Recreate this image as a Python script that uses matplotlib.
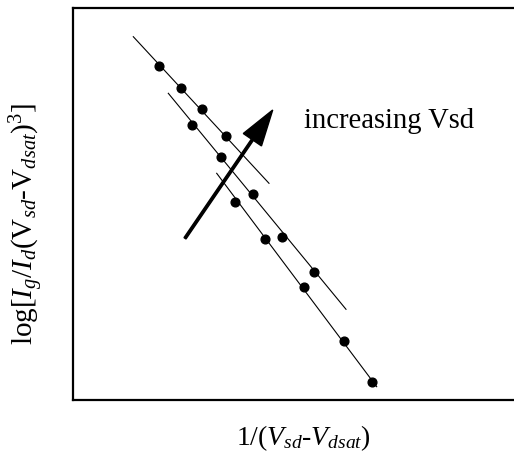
import matplotlib
matplotlib.use("Agg")
import matplotlib.pyplot as plt

plt.rcParams['font.family'] = ['Liberation Serif', 'DejaVu Serif']
plt.rcParams['mathtext.fontset'] = 'custom'
plt.rcParams['mathtext.rm'] = 'Liberation Serif'
plt.rcParams['mathtext.it'] = 'Liberation Serif:italic'
plt.rcParams['mathtext.bf'] = 'Liberation Serif:bold'

# data (arbitrary units)
x_low = [86.3, 107.7, 129.3, 153.0]
y_low = [334.0, 312.3, 291.3, 264.3]
fit_low_x = [60.3, 196.0]
fit_low_y = [363.3, 216.7]

x_mid = [118.7, 147.7, 179.7, 209.3, 241.0]
y_mid = [275.0, 243.3, 206.0, 163.3, 128.3]
fit_mid_x = [95.3, 273.0]
fit_mid_y = [306.7, 90.7]

x_high = [162.0, 192.0, 231.3, 271.3, 298.7]
y_high = [197.7, 160.7, 112.7, 59.3, 17.7]
fit_high_x = [143.7, 303.7]
fit_high_y = [226.7, 13.3]

arrow_start = (112.0, 161.7)
arrow_end = (199.7, 290.0)

fig = plt.figure(figsize=(5.14, 4.66), dpi=100)
ax = fig.add_axes([73 / 514, 66 / 466, 445 / 514, 392.5 / 466])

for fx, fy, px, py in [(fit_low_x, fit_low_y, x_low, y_low),
                       (fit_mid_x, fit_mid_y, x_mid, y_mid),
                       (fit_high_x, fit_high_y, x_high, y_high)]:
    ax.plot(fx, fy, color='k', lw=0.8)
    ax.plot(px, py, 'o', color='k', ms=6.3)

ax.arrow(arrow_start[0], arrow_start[1],
         arrow_end[0] - arrow_start[0], arrow_end[1] - arrow_start[1],
         width=2.4, head_width=22, head_length=36,
         length_includes_head=True, color='k')

ax.text(231, 272, 'increasing Vsd', fontsize=20.6, ha='left', va='baseline')

ax.set_xlim(0, 445)
ax.set_ylim(0, 392.5)
ax.set_xticks([])
ax.set_yticks([])
for s in ax.spines.values():
    s.set_linewidth(1.6)

fig.text(0.053, 0.519,
         r'$\mathrm{log}[I_g/I_d(\mathrm{V}_{sd}\text{-}\mathrm{V}_{dsat})^3]$',
         rotation=90, fontsize=21, ha='center', va='center')
fig.text(303 / 514, 1 - 438 / 466,
         r'$1/(V_{sd}\text{-}V_{dsat})$',
         fontsize=20, ha='center', va='center')

fig.savefig('out.png', dpi=100)
